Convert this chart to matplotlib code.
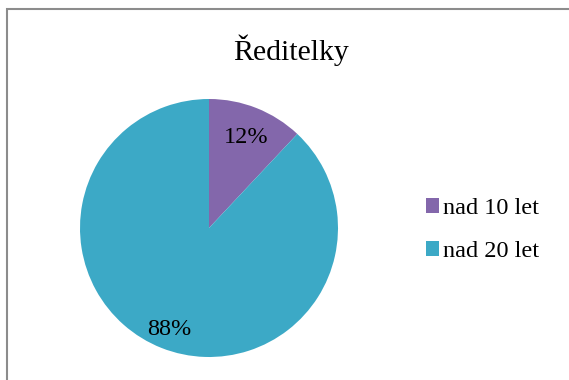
import matplotlib.pyplot as plt
from matplotlib.patches import Rectangle

# Data
kategorie = ['nad 10 let', 'nad 20 let']
podily = [12, 88]
barvy = ['#8367ab', '#3ca9c6']

plt.rcParams['font.family'] = ['Liberation Serif', 'DejaVu Serif']

fig = plt.figure(figsize=(5.69, 3.80), dpi=100)

# gray frame (top and left edge)
fig.add_artist(Rectangle((7 / 569, -0.1), 1.2, (380 - 9) / 380 + 0.1,
                         transform=fig.transFigure, fill=False,
                         edgecolor='#8c8c8c', linewidth=1.5))

ax = fig.add_axes([80 / 569, 23 / 380, 258 / 569, 258 / 380])
wedges, texts, autotexts = ax.pie(
    podily, colors=barvy, startangle=90, counterclock=False,
    autopct='%1.0f%%', pctdistance=0.8,
    wedgeprops=dict(edgecolor='none'),
    textprops=dict(fontsize=17.5, color='black'))
for t in autotexts:
    x, y = t.get_position()
    t.set_position((x - 0.01, y - 0.04))
ax.set_xlim(-1, 1)
ax.set_ylim(-1, 1)
ax.set_aspect('equal')

fig.text(291 / 569, 1 - 50 / 380, 'Ředitelky', fontsize=21.5,
         ha='center', va='center')

fig.legend(wedges, kategorie, loc='center left',
           bbox_to_anchor=(404 / 569, 1 - 230 / 380), frameon=False,
           fontsize=17.5, handlelength=0.55, handleheight=0.55,
           handletextpad=0.15, labelspacing=0.9)

fig.savefig('out.png', dpi=100)
